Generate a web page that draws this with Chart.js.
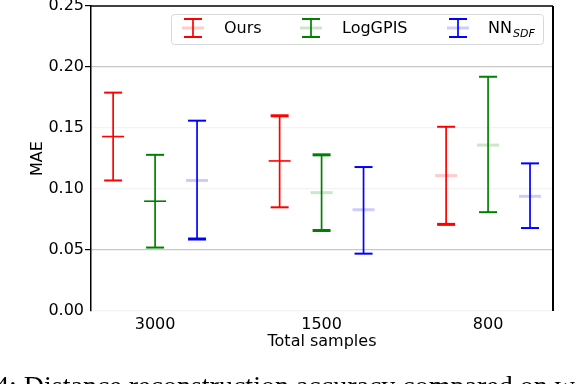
<!DOCTYPE html>
<html>
<head>
<meta charset="utf-8">
<script src="https://cdn.jsdelivr.net/npm/chart.js@4.4.1/dist/chart.umd.min.js"></script>
<style>
  html, body { margin: 0; padding: 0; background: #fff; overflow: hidden; }
  #wrap { position: relative; width: 578px; height: 384px; overflow: hidden; }
  #caption {
    position: absolute; left: -5px; top: 372px; white-space: nowrap;
    font-family: 'Liberation Serif', serif; font-size: 28px; line-height: 28px; color: #000;
  }
</style>
</head>
<body>
<div id="wrap">
  <canvas id="maeChart" width="578" height="384"></canvas>
  <div id="caption">4: Distance reconstruction accuracy compared on w</div>
</div>
<script>
const categories = ['3000', '1500', '800'];
const methods = ['Ours', 'LogGPIS', 'NN'];

const oursMean = [0.143, 0.123, 0.111];
const oursLow = [0.107, 0.085, 0.071];
const oursHigh = [0.179, 0.160, 0.151];

const logMean = [0.090, 0.097, 0.136];
const logLow = [0.052, 0.066, 0.081];
const logHigh = [0.128, 0.128, 0.192];

const nnMean = [0.107, 0.083, 0.094];
const nnLow = [0.059, 0.047, 0.068];
const nnHigh = [0.156, 0.118, 0.121];

// look of each bar: [top cap thick, bottom cap thick, mean faded]
const oursLook = [[false, false, false], [true, false, false], [false, true, true]];
const logLook = [[false, false, false], [true, true, true], [false, false, true]];
const nnLook = [[false, true, true], [false, false, true], [false, false, true]];

Chart.defaults.font.family = 'DejaVu Sans';
Chart.defaults.font.size = 16;
Chart.defaults.color = '#000';

function series(label, mean, low, high, shift, color, pale, look) {
    return {
        label: label,
        data: mean.map((v, i) => ({ x: i + shift, y: v })),
        low: low,
        high: high,
        look: look,
        color: color,
        pale: pale,
        pointRadius: 0,
        showLine: false
    };
}

const errorBars = {
    id: 'errorBars',
    afterDatasetsDraw(chart) {
        const ctx = chart.ctx;
        const xs = chart.scales.x, ys = chart.scales.y;
        chart.data.datasets.forEach(ds => {
            ds.data.forEach((p, i) => {
                const x = xs.getPixelForValue(p.x);
                const yTop = ys.getPixelForValue(ds.high[i]);
                const yBot = ys.getPixelForValue(ds.low[i]);
                const yMid = ys.getPixelForValue(p.y);
                const look = ds.look[i];
                ctx.save();
                // mean mark
                ctx.strokeStyle = look[2] ? ds.pale : ds.color;
                ctx.lineWidth = look[2] ? 3 : 1.6;
                ctx.beginPath();
                ctx.moveTo(x - 11, yMid); ctx.lineTo(x + 11, yMid);
                ctx.stroke();
                // whisker
                ctx.strokeStyle = ds.color;
                ctx.lineWidth = 1.7;
                ctx.beginPath();
                ctx.moveTo(x, yTop); ctx.lineTo(x, yBot);
                ctx.stroke();
                // caps
                ctx.lineWidth = look[0] ? 3 : 2;
                ctx.beginPath();
                ctx.moveTo(x - 9, yTop); ctx.lineTo(x + 9, yTop);
                ctx.stroke();
                ctx.lineWidth = look[1] ? 3 : 2;
                ctx.beginPath();
                ctx.moveTo(x - 9, yBot); ctx.lineTo(x + 9, yBot);
                ctx.stroke();
                ctx.restore();
            });
        });
    }
};

const frameAndLegend = {
    id: 'frameAndLegend',
    afterDraw(chart) {
        const ctx = chart.ctx;
        const a = chart.chartArea;
        ctx.save();
        ctx.strokeStyle = '#000';
        ctx.lineWidth = 1.5;
        ctx.beginPath();
        ctx.moveTo(a.left, a.top); ctx.lineTo(a.right, a.top);
        ctx.stroke();
        ctx.lineWidth = 2;
        ctx.beginPath();
        ctx.moveTo(a.right, a.top); ctx.lineTo(a.right, a.bottom);
        ctx.stroke();

        // legend box
        const bx = 171, by = 14, bw = 372, bh = 30;
        ctx.fillStyle = 'rgba(255,255,255,0.8)';
        ctx.strokeStyle = '#d8d8d8';
        ctx.lineWidth = 1;
        ctx.beginPath();
        ctx.roundRect(bx + 0.5, by + 0.5, bw, bh, 3);
        ctx.fill();
        ctx.stroke();

        const glyphX = [193, 311, 458];
        const textX = [224, 342, 488];
        chart.data.datasets.forEach((ds, k) => {
            const gx = glyphX[k], cy = 28;
            ctx.strokeStyle = ds.pale;
            ctx.lineWidth = 3;
            ctx.beginPath();
            ctx.moveTo(gx - 11, cy); ctx.lineTo(gx + 11, cy);
            ctx.stroke();
            ctx.strokeStyle = ds.color;
            ctx.lineWidth = 1.7;
            ctx.beginPath();
            ctx.moveTo(gx, 19); ctx.lineTo(gx, 37);
            ctx.stroke();
            ctx.lineWidth = 2;
            ctx.beginPath();
            ctx.moveTo(gx - 9, 19); ctx.lineTo(gx + 9, 19);
            ctx.moveTo(gx - 9, 37); ctx.lineTo(gx + 9, 37);
            ctx.stroke();

            ctx.fillStyle = '#000';
            ctx.textBaseline = 'middle';
            ctx.textAlign = 'left';
            ctx.font = '16px "DejaVu Sans"';
            ctx.fillText(ds.label, textX[k], 29);
            if (ds.label === 'NN') {
                const w = ctx.measureText('NN').width;
                ctx.font = 'italic 11px "DejaVu Sans"';
                ctx.fillText('SDF', textX[k] + w + 1, 34);
            }
        });
        ctx.restore();
    }
};

function isMajor(v) {
    return Math.abs(v - 0.20) < 1e-6 || Math.abs(v - 0.05) < 1e-6;
}

new Chart(document.getElementById('maeChart').getContext('2d'), {
    type: 'scatter',
    data: {
        datasets: [
            series(methods[0], oursMean, oursLow, oursHigh, -0.252, '#ff0000', '#ffcccc', oursLook),
            series(methods[1], logMean, logLow, logHigh, 0, '#008000', '#cce6cc', logLook),
            series(methods[2], nnMean, nnLow, nnHigh, 0.252, '#0000ff', '#ccccff', nnLook)
        ]
    },
    options: {
        responsive: false,
        animation: false,
        layout: { padding: { left: 0, top: 6, right: 25, bottom: 32.4 } },
        plugins: {
            legend: { display: false },
            tooltip: { enabled: false }
        },
        scales: {
            x: {
                type: 'linear',
                min: -0.385,
                max: 2.39,
                afterBuildTicks: s => { s.ticks = categories.map((c, i) => ({ value: i })); },
                afterFit: s => { s.height = 40.6; s.paddingLeft = 0; s.paddingRight = 0; },
                ticks: {
                    padding: 4,
                    maxRotation: 0,
                    callback: v => categories[v]
                },
                grid: { display: false, drawTicks: false },
                border: { display: false },
                title: {
                    display: true,
                    text: 'Total samples',
                    padding: { top: 0, bottom: 0 }
                }
            },
            y: {
                min: 0,
                max: 0.25,
                afterFit: s => { s.width = 91; s.paddingTop = 0; s.paddingBottom = 0; },
                ticks: {
                    stepSize: 0.05,
                    padding: 1,
                    callback: v => v.toFixed(2)
                },
                grid: {
                    tickLength: 6,
                    lineWidth: 1.2,
                    color: c => {
                        const v = c.tick.value;
                        if (Math.abs(v - 0.25) < 1e-6) return 'rgba(0,0,0,0)';
                        return isMajor(v) ? '#c8c8c8' : '#f3f3f3';
                    },
                    tickColor: c => {
                        const v = c.tick.value;
                        return (isMajor(v) || Math.abs(v - 0.25) < 1e-6) ? '#000' : 'rgba(0,0,0,0)';
                    }
                },
                border: { display: true, color: '#000', width: 1.5 },
                title: {
                    display: true,
                    text: 'MAE',
                    padding: { top: 28.4, bottom: 0 }
                }
            }
        }
    },
    plugins: [errorBars, frameAndLegend]
});
</script>
</body>
</html>
